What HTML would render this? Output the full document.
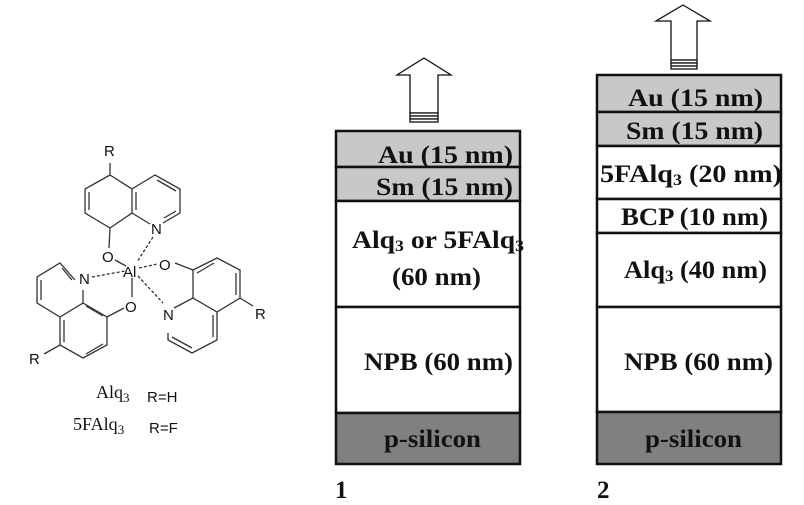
<!DOCTYPE html>
<html><head><style>
body{margin:0;background:#fff;width:804px;height:505px;overflow:hidden}
svg{display:block}
.t{font-family:"Liberation Serif",serif;font-weight:bold;font-size:25px;fill:#111}
.a{font-family:"Liberation Sans",sans-serif;font-size:15px;fill:#111}
.s{font-family:"Liberation Serif",serif;font-size:18px;fill:#111}
</style></head><body>
<svg width="804" height="505" viewBox="0 0 804 505">
<g stroke="#333" stroke-width="1.3" fill="none">
<polyline points="110,175 85,189 85,213 110,228 132,213 132,189 110,175"/>
<polyline points="132,189 155,175 180,189 180,213 163,223"/>
<line x1="132" y1="213" x2="150" y2="224"/>
<line x1="110" y1="175" x2="110" y2="163"/>
<line x1="89" y1="192" x2="89" y2="210"/><line x1="136" y1="192" x2="136" y2="210"/>
<line x1="157" y1="180" x2="176" y2="191"/><line x1="176" y1="211" x2="164" y2="218"/>
<line x1="110" y1="228" x2="109" y2="248"/>
<line x1="153" y1="237" x2="137" y2="262" stroke-dasharray="3,2"/>
<line x1="115" y1="260" x2="126" y2="266"/>
<polyline points="75,280 60,263 37,277 37,303 60,317 83,303 83,290"/>
<polyline points="83,303 107,317 107,345 83,358 60,345 60,317"/>
<line x1="41" y1="280" x2="41" y2="300"/><line x1="62" y1="268" x2="72" y2="280"/>
<line x1="64" y1="320" x2="64" y2="342"/><line x1="86" y1="306" x2="103" y2="316"/>
<line x1="86" y1="354" x2="103" y2="344"/>
<line x1="60" y1="345" x2="44" y2="354"/>
<line x1="107" y1="317" x2="124" y2="308"/>
<line x1="92" y1="277" x2="125" y2="271" stroke-dasharray="3,2"/>
<line x1="132" y1="278" x2="132" y2="297"/>
<line x1="139" y1="268" x2="157" y2="264" stroke-dasharray="3,2"/>
<line x1="175" y1="263" x2="193" y2="270"/>
<polyline points="193,270 217,258 240,270 240,298 217,312 193,298 193,270"/>
<line x1="236" y1="273" x2="236" y2="295"/><line x1="197" y1="273" x2="214" y2="263"/>
<line x1="240" y1="298" x2="253" y2="306"/>
<polyline points="217,312 217,340 192,353 168,340 168,333"/>
<line x1="193" y1="298" x2="174" y2="308"/>
<line x1="213" y1="315" x2="213" y2="337"/><line x1="192" y1="348" x2="172" y2="337"/>
<line x1="138" y1="276" x2="163" y2="303" stroke-dasharray="3,2"/>
</g>
<g class="a">
<text x="104" y="156">R</text>
<text x="151" y="234">N</text>
<text x="102" y="262">O</text>
<text x="123" y="277">Al</text>
<text x="79" y="284">N</text>
<text x="125" y="312">O</text>
<text x="159" y="270">O</text>
<text x="163" y="320">N</text>
<text x="255" y="319">R</text>
<text x="29" y="364">R</text>
<text x="147" y="402">R=H</text>
<text x="149" y="433">R=F</text>
</g>
<text class="s" x="96" y="398">Alq<tspan font-size="13" dy="4">3</tspan></text>
<text class="s" x="73" y="430">5FAlq<tspan font-size="13" dy="4">3</tspan></text>

<g stroke="#111" stroke-width="2.5">
<rect x="336" y="131" width="184" height="36" fill="#c8c8c8"/>
<rect x="336" y="167" width="184" height="34" fill="#c8c8c8"/>
<rect x="336" y="201" width="184" height="106" fill="#fff"/>
<rect x="336" y="307" width="184" height="106" fill="#fff"/>
<rect x="336" y="413" width="184" height="51" fill="#808080"/>
<rect x="597" y="75" width="184" height="37" fill="#c8c8c8"/>
<rect x="597" y="112" width="184" height="34" fill="#c8c8c8"/>
<rect x="597" y="146" width="184" height="53" fill="#fff"/>
<rect x="597" y="199" width="184" height="34" fill="#fff"/>
<rect x="597" y="233" width="184" height="74" fill="#fff"/>
<rect x="597" y="307" width="184" height="105" fill="#fff"/>
<rect x="597" y="412" width="184" height="52" fill="#808080"/>
</g>
<g stroke="#111" stroke-width="1.3" fill="#fff">
<polygon points="424,58 451,75 438,75 438,113 410,113 410,75 397,75"/>
<rect x="410" y="113" width="28" height="3"/><rect x="410" y="116" width="28" height="3"/><rect x="410" y="119" width="28" height="3"/>
<polygon points="683,5 710,21 697,21 697,60 671,60 671,21 656,21"/>
<rect x="671" y="60" width="26" height="3"/><rect x="671" y="63" width="26" height="3"/><rect x="671" y="66" width="26" height="3"/>
</g>
<g class="t">
<text x="378" y="163" textLength="135" lengthAdjust="spacingAndGlyphs">Au (15 nm)</text>
<text x="376" y="195" textLength="137" lengthAdjust="spacingAndGlyphs">Sm (15 nm)</text>
<text x="352" y="248" textLength="172" lengthAdjust="spacingAndGlyphs">Alq<tspan font-size="16" dy="3">3</tspan><tspan dy="-3"> or 5FAlq</tspan><tspan font-size="16" dy="3">3</tspan></text>
<text x="392" y="285" textLength="89" lengthAdjust="spacingAndGlyphs">(60 nm)</text>
<text x="364" y="370" textLength="149" lengthAdjust="spacingAndGlyphs">NPB (60 nm)</text>
<text x="384" y="447" textLength="97" lengthAdjust="spacingAndGlyphs">p-silicon</text>
<text x="628" y="106" textLength="135" lengthAdjust="spacingAndGlyphs">Au (15 nm)</text>
<text x="626" y="139" textLength="137" lengthAdjust="spacingAndGlyphs">Sm (15 nm)</text>
<text x="600" y="182" textLength="182" lengthAdjust="spacingAndGlyphs">5FAlq<tspan font-size="16" dy="3">3</tspan><tspan dy="-3"> (20 nm)</tspan></text>
<text x="621" y="225" textLength="147" lengthAdjust="spacingAndGlyphs">BCP (10 nm)</text>
<text x="624" y="278" textLength="143" lengthAdjust="spacingAndGlyphs">Alq<tspan font-size="16" dy="3">3</tspan><tspan dy="-3"> (40 nm)</tspan></text>
<text x="624" y="370" textLength="149" lengthAdjust="spacingAndGlyphs">NPB (60 nm)</text>
<text x="645" y="447" textLength="97" lengthAdjust="spacingAndGlyphs">p-silicon</text>
<text x="335" y="498">1</text>
<text x="597" y="498">2</text>
</g>
</svg>
</body></html>
